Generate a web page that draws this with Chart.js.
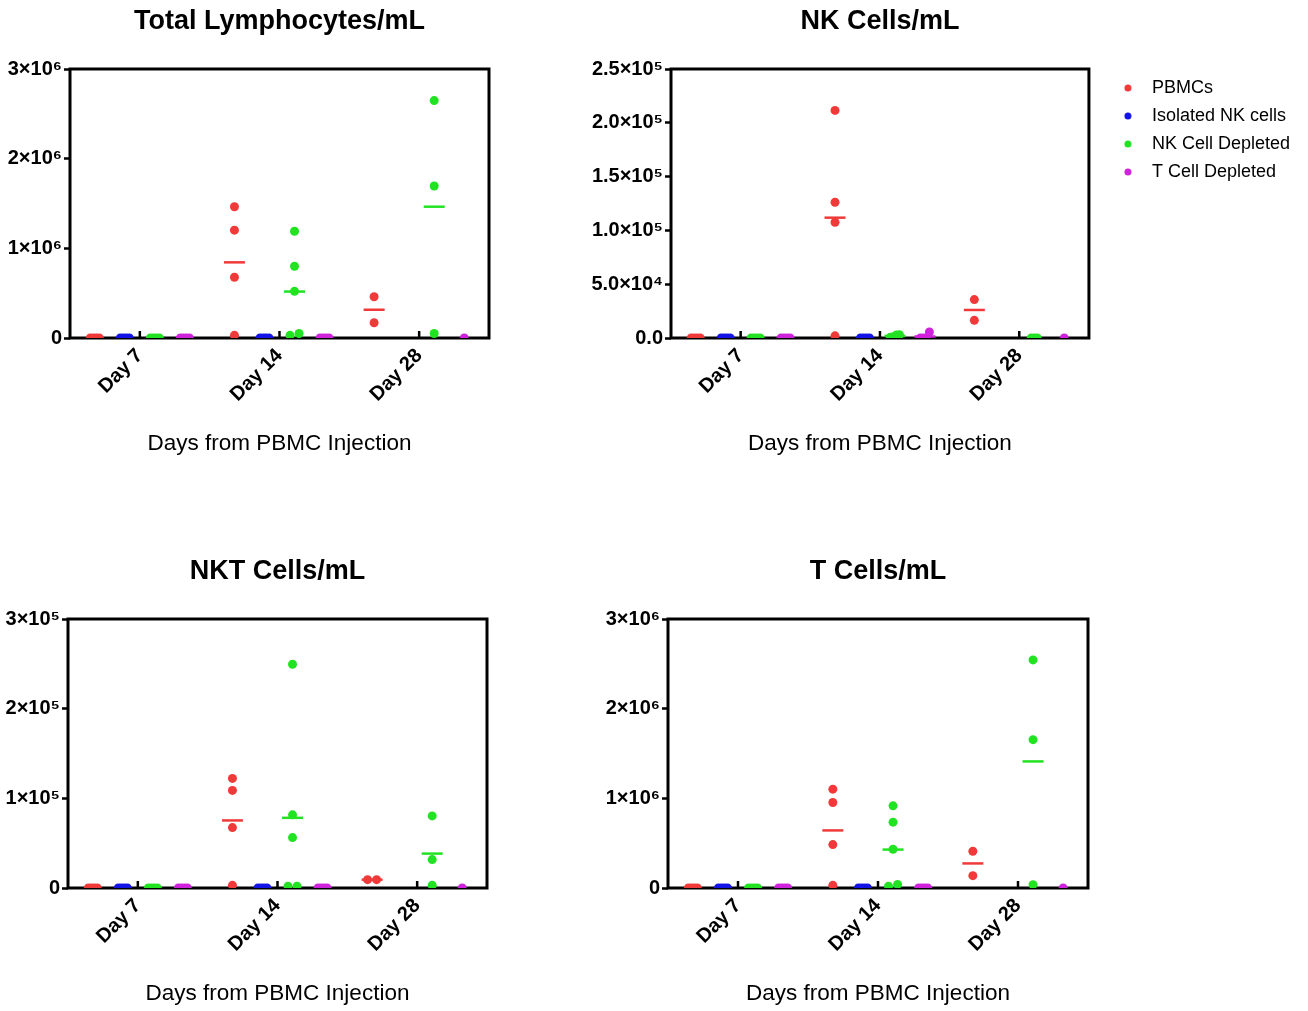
<!DOCTYPE html>
<html>
<head>
<meta charset="utf-8">
<script src="https://cdn.jsdelivr.net/npm/chart.js@4.4.1/dist/chart.umd.min.js"></script>
<style>
body { margin: 0; background: #fff; width: 1308px; height: 1011px; overflow: hidden; position: relative; }
canvas { position: absolute; }
</style>
</head>
<body>
<canvas id="c1" width="560" height="470" style="left:0;top:0"></canvas>
<canvas id="c2" width="748" height="470" style="left:560px;top:0"></canvas>
<canvas id="c3" width="560" height="470" style="left:0;top:550px"></canvas>
<canvas id="c4" width="748" height="470" style="left:560px;top:550px"></canvas>
<script>
const days = ["Day 7", "Day 14", "Day 28"];
const groups = ["PBMCs", "Isolated NK cells", "NK Cell Depleted", "T Cell Depleted"];
const groupColors = ["#f03a3a", "#1414e6", "#22e322", "#cf22dc"];

// Total Lymphocytes/mL  (one inner array per day)
const totalPbmc = [[0, 0, 0, 0], [1464000, 1203000, 678000, 30000], [460000, 170000]];
const totalIsoNk = [[0, 0, 0, 0], [0, 0, 0, 0], []];
const totalNkDep = [[0, 0, 0, 0], [1190000, 800000, 520000, 50000, 30000], [2648000, 1695000, 50000]];
const totalTDep = [[0, 0, 0, 0], [0, 0, 0, 0], [0]];
const totalTicks = [0, 1000000, 2000000, 3000000];
const totalTickLabels = ["0", "1×10⁶", "2×10⁶", "3×10⁶"];

// NK Cells/mL
const nkPbmc = [[0, 0, 0, 0], [211500, 126200, 107600, 2000], [35700, 16400]];
const nkIsoNk = [[0, 0, 0, 0], [0, 0, 0, 0], []];
const nkNkDep = [[0, 0, 0, 0], [3000, 800, 1200, 2800], [0, 0, 0]];
const nkTDep = [[0, 0, 0, 0], [0, 0, 0, 5600], [0]];
const nkTicks = [0, 50000, 100000, 150000, 200000, 250000];
const nkTickLabels = ["0.0", "5.0×10⁴", "1.0×10⁵", "1.5×10⁵", "2.0×10⁵", "2.5×10⁵"];

// NKT Cells/mL
const nktPbmc = [[0, 0, 0, 0], [122200, 108800, 67400, 3000], [9300, 9300]];
const nktIsoNk = [[0, 0, 0, 0], [0, 0, 0, 0], []];
const nktNkDep = [[0, 0, 0, 0], [249500, 81600, 56200, 2000, 2000], [80400, 31700, 3000]];
const nktTDep = [[0, 0, 0, 0], [0, 0, 0, 0], [0]];
const nktTicks = [0, 100000, 200000, 300000];
const nktTickLabels = ["0", "1×10⁵", "2×10⁵", "3×10⁵"];

// T Cells/mL
const tPbmc = [[0, 0, 0, 0], [1102000, 953000, 484000, 30000], [410000, 138000]];
const tIsoNk = [[0, 0, 0, 0], [0, 0, 0, 0], []];
const tNkDep = [[0, 0, 0, 0], [916000, 734000, 432000, 40000, 20000], [2544000, 1654000, 37000]];
const tTDep = [[0, 0, 0, 0], [0, 0, 0, 0], [0]];
const tTicks = [0, 1000000, 2000000, 3000000];
const tTickLabels = ["0", "1×10⁶", "2×10⁶", "3×10⁶"];

Chart.defaults.font.family = '"Liberation Sans", Arial, Helvetica, sans-serif';
Chart.defaults.color = "#000";

const pxPerDay = 139.5;
const groupStep = 30 / pxPerDay;

// points with (nearly) the same value are pushed side by side, like prism does
function spread(vals, yMax) {
    const sorted = vals.slice().sort((a, b) => a - b);
    const out = [];
    let cluster = [];
    const flush = () => {
        const n = cluster.length;
        const step = n === 2 ? 9 : 3;
        cluster.forEach((v, i) => out.push({ v: v, dx: (i - (n - 1) / 2) * step / pxPerDay }));
        cluster = [];
    };
    sorted.forEach(v => {
        if (cluster.length && v - cluster[0] > yMax * 0.03) flush();
        cluster.push(v);
    });
    if (cluster.length) flush();
    return out;
}

function dotImage(color) {
    const c = document.createElement("canvas");
    c.width = 44; c.height = 10;
    const g = c.getContext("2d");
    g.fillStyle = color;
    g.beginPath();
    g.arc(29, 5, 3.5, 0, Math.PI * 2);
    g.fill();
    return c;
}

const frame = {
    id: "frame",
    beforeDatasetsDraw(chart) {
        const { ctx, chartArea: a } = chart;
        const x = chart.scales.x;
        ctx.save();
        ctx.strokeStyle = "#000";
        ctx.lineWidth = 3;
        ctx.strokeRect(a.left, a.top, a.right - a.left, a.bottom - a.top);
        ctx.lineWidth = 2.5;
        days.forEach((d, i) => {
            const px = x.getPixelForValue(i);
            ctx.beginPath();
            ctx.moveTo(px, a.bottom);
            ctx.lineTo(px, a.bottom - 7);
            ctx.stroke();
        });
        ctx.restore();
    },
    afterDraw(chart, args, opts) {
        const { ctx, chartArea: a } = chart;
        ctx.save();
        ctx.font = 'bold 27px "Liberation Sans", Arial, sans-serif';
        ctx.fillStyle = "#000";
        ctx.textAlign = "center";
        ctx.textBaseline = "middle";
        ctx.fillText(opts.title, (a.left + a.right) / 2, 22);
        ctx.restore();
    }
};

function makePanel(id, title, series, yTicks, yLabels, axisW, padRight, showLegend) {
    const yMax = yTicks[yTicks.length - 1];
    const pointSets = [];
    const meanSets = [];
    series.forEach((perDay, g) => {
        const pts = [];
        const means = [];
        perDay.forEach((vals, d) => {
            const cx = d + (g - 1.5) * groupStep;
            spread(vals, yMax).forEach(p => pts.push({ x: cx + p.dx, y: p.v }));
            if (vals.length) {
                const m = vals.reduce((s, v) => s + v, 0) / vals.length;
                if (m > 0) means.push({ x: cx, y: m });
            }
        });
        pointSets.push({
            label: groups[g], data: pts, order: 1,
            pointRadius: 4.5, pointBorderWidth: 0,
            pointBackgroundColor: groupColors[g], backgroundColor: groupColors[g]
        });
        meanSets.push({
            label: groups[g] + " mean", data: means, order: 0,
            pointStyle: "line", pointRadius: 10.5, pointBorderWidth: 2.5,
            pointBorderColor: groupColors[g], borderColor: groupColors[g]
        });
    });

    new Chart(document.getElementById(id), {
        type: "scatter",
        data: { datasets: pointSets.concat(meanSets) },
        plugins: [frame],
        options: {
            responsive: false,
            animation: false,
            events: [],
            layout: { padding: { left: 0, top: 69, right: padRight, bottom: 0 } },
            plugins: {
                frame: { title: title },
                tooltip: { enabled: false },
                title: { display: false },
                legend: {
                    display: showLegend,
                    position: "right",
                    align: "start",
                    maxWidth: 260,
                    labels: {
                        usePointStyle: true,
                        pointStyleWidth: 44,
                        padding: 10,
                        font: { size: 18 },
                        color: "#000",
                        generateLabels: () => groups.map((g, i) => ({
                            text: g, pointStyle: dotImage(groupColors[i]),
                            fillStyle: groupColors[i], strokeStyle: groupColors[i],
                            lineWidth: 0, hidden: false, datasetIndex: i
                        }))
                    }
                }
            },
            scales: {
                x: {
                    type: "linear",
                    min: -0.5,
                    max: 2.5,
                    afterBuildTicks: s => { s.ticks = days.map((d, i) => ({ value: i })); },
                    afterFit: s => { s.height = 132; },
                    ticks: {
                        callback: v => days[v],
                        autoSkip: false,
                        minRotation: 45,
                        maxRotation: 45,
                        padding: -2,
                        font: { size: 20, weight: "bold" }
                    },
                    grid: { display: false },
                    border: { display: false },
                    title: {
                        display: true,
                        text: "Days from PBMC Injection",
                        font: { size: 22.5 },
                        padding: { top: 0, bottom: 13 }
                    }
                },
                y: {
                    min: 0,
                    max: yMax,
                    afterBuildTicks: s => { s.ticks = yTicks.map(v => ({ value: v })); },
                    afterFit: s => { s.width = axisW; },
                    ticks: {
                        callback: v => yLabels[yTicks.indexOf(v)],
                        padding: 2,
                        font: { size: 20, weight: "bold" }
                    },
                    grid: { drawOnChartArea: false, tickLength: 6, tickWidth: 2.5, tickColor: "#000" },
                    border: { display: false }
                }
            }
        }
    });
}

makePanel("c1", "Total Lymphocytes/mL", [totalPbmc, totalIsoNk, totalNkDep, totalTDep],
    totalTicks, totalTickLabels, 70, 71, false);
makePanel("c2", "NK Cells/mL", [nkPbmc, nkIsoNk, nkNkDep, nkTDep],
    nkTicks, nkTickLabels, 111, 8, true);
makePanel("c3", "NKT Cells/mL", [nktPbmc, nktIsoNk, nktNkDep, nktTDep],
    nktTicks, nktTickLabels, 68, 73, false);
makePanel("c4", "T Cells/mL", [tPbmc, tIsoNk, tNkDep, tTDep],
    tTicks, tTickLabels, 108, 220, false);
</script>
</body>
</html>
